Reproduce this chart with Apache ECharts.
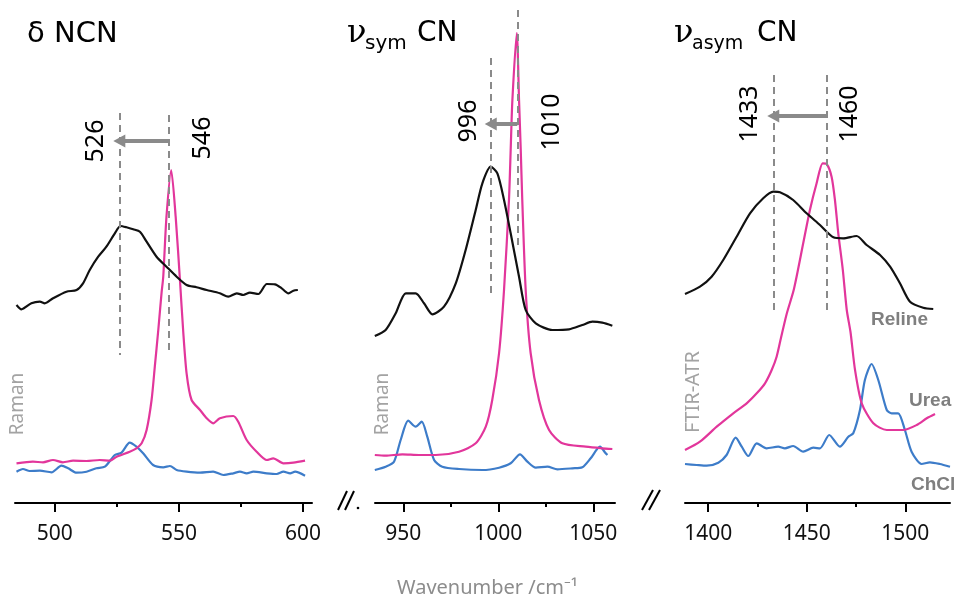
<!DOCTYPE html>
<html><head><meta charset="utf-8">
<script src="https://cdn.jsdelivr.net/npm/echarts@6/dist/echarts.min.js"></script>
<style>html,body{margin:0;padding:0;background:#fff}#c{width:956px;height:599px}</style>
</head><body><div id="c"></div>
<script>
// ---- data (wavenumber, intensity in arbitrary units) ----
const ticksNCN = [500, 550, 600], minorNCN = [525, 575];
const ticksSym = [950, 1000, 1050], minorSym = [975, 1025];
const ticksAsym = [1400, 1450, 1500], minorAsym = [1425, 1475];

const relineNCN = [[484.6,198],[486.6,193.7],[490.6,199.7],[494.0,201.3],[496.0,199.7],[499.3,204.7],[504.7,211.3],[508.8,213],[511.4,219.7],[514.1,233],[517.5,246.3],[520.8,256.3],[524.2,269.7],[526.5,277],[528.9,275.7],[531.6,273.7],[534.3,271.3],[537.0,261.3],[541.0,246.3],[545.0,236.3],[549.1,226.3],[553.1,218],[557.1,215.7],[561.2,213],[566.5,209.7],[569.9,206.3],[573.3,209.7],[575.9,208],[578.6,210.3],[582.0,209],[585.4,219],[588.7,218.7],[591.4,214.7],[594.1,209.7],[596.1,212.3],[597.9,213]];
const ureaNCN = [[484.6,39.7],[491.2,41.3],[495.3,40.7],[499.3,43],[503.3,40.7],[507.4,42.3],[512.8,42],[518.1,43],[522.2,42.3],[524.9,46.3],[530.2,51.3],[532.9,54.7],[535.0,59.7],[537.0,73],[539.0,103],[540.3,136.3],[541.7,173],[543.0,209.7],[543.7,226.3],[545.0,286.3],[546.9,333],[548.7,286.3],[550.5,220],[551.7,173],[553.1,129.7],[555.1,103],[558.5,93],[561.2,84.7],[563.8,79.7],[566.5,84.7],[571.9,87],[573.9,81.3],[577.3,63],[581.3,51.3],[585.4,43],[588.0,44.7],[592.1,39.7],[596.1,40.3],[600.8,42.3]];
const chclNCN = [[484.6,31.3],[487.2,34],[489.9,32],[494.0,32.3],[498.7,30.7],[502.7,37.3],[505.4,34.7],[508.8,30.3],[512.8,31.3],[516.8,34.7],[520.2,36.3],[524.2,48],[526.9,50.3],[530.2,60.3],[532.9,56.3],[535.6,49.7],[539.6,38],[543.7,35.7],[546.4,37],[549.1,33],[553.1,31.3],[558.5,30.3],[563.8,31.3],[567.9,28],[571.9,29.7],[574.6,31.3],[577.3,29.7],[580.0,31.3],[585.4,29.7],[589.4,29],[592.1,31.3],[594.8,29.7],[596.8,31.3],[600.8,27.3]];

const relineSym = [[935,167],[940.7,173],[946.0,189.7],[951.3,209.7],[956.5,209.7],[960.9,199.7],[965.3,188.7],[971.4,196.3],[977.6,219.7],[982.8,253],[988.1,293],[991.6,319.7],[996.0,336.3],[999.5,329.7],[1003.0,303],[1006.5,269.7],[1010.9,226.3],[1014.4,193],[1019.7,179.7],[1028.4,173],[1037.2,173.7],[1044.2,178],[1049.5,181.3],[1054.7,180.3],[1060.0,177.3]];
const ureaSym = [[935,48],[940.7,47.3],[949.5,48.7],[958.3,48],[967.1,48],[979.3,51.3],[988.1,59.7],[993.4,76.3],[996.8,103],[1000.4,150],[1003.0,213],[1005.6,303],[1006.5,353],[1007.4,403],[1009.7,470],[1010.9,403],[1011.8,353],[1012.6,303],[1014.4,213],[1017.0,150],[1021.4,103],[1026.7,73],[1033.7,59.7],[1046.0,56.3],[1054.7,54.7],[1060.0,54]];
const chclSym = [[935,33],[940.7,36.3],[945.1,41.3],[948.6,63],[952.6,82.3],[956.5,76.3],[959.7,81.3],[962.6,66.3],[966.2,43],[970.5,36.3],[979.3,34],[991.6,33],[1000.4,35.3],[1006.5,39.7],[1011.4,48.7],[1015.3,41.3],[1019.7,35.3],[1025.8,36.3],[1031.1,33.7],[1039.0,34.7],[1044.2,35.7],[1048.6,44.7],[1053.5,56.3],[1056.5,49.7],[1057.4,48]];

const relineAsym = [[1388.2,209],[1395.8,216.3],[1401.7,226.3],[1407.6,243],[1414.4,266.3],[1421.2,289.7],[1427.9,304.7],[1433.0,311.3],[1436.4,310.7],[1443.1,303],[1449.9,289.7],[1456.7,278],[1463.5,265.7],[1468.5,264.7],[1475.3,267],[1480.4,258],[1487.2,248],[1492.3,236.3],[1497.3,219.7],[1502.4,201.3],[1509.1,195.3],[1514.2,194]];
const ureaAsym = [[1388.2,53],[1395.8,61.3],[1404.3,76.3],[1412.7,89.7],[1419.5,99.7],[1424.6,109.7],[1428.8,119.7],[1432.2,133],[1434.7,146.3],[1436.9,165],[1439.8,189],[1443.5,214],[1448.2,259.7],[1451.6,293],[1455.0,319.7],[1458.1,339.7],[1460.1,339],[1462.6,326.3],[1464.3,303],[1466.0,269.7],[1468.3,233],[1470.3,193],[1472.2,171],[1474.5,133],[1477.9,99.7],[1483.8,79.7],[1490.6,73],[1499.0,73],[1505.8,78],[1510.9,84.7],[1515.1,89]];
const chclAsym = [[1388.2,39],[1394.1,38],[1399.2,37.3],[1405.1,40.3],[1409.3,48],[1413.9,65.3],[1417.0,56.3],[1420.3,47],[1424.6,59.7],[1429.6,54.7],[1435.5,56.3],[1438.9,54.7],[1443.1,57],[1448.2,51.3],[1453.3,55.3],[1456.7,54.7],[1461.4,68],[1466.8,56.3],[1471.1,66.3],[1473.6,69.7],[1477.0,93],[1479.5,123],[1482.9,139],[1486.3,123],[1490.6,93],[1493.1,89.7],[1496.4,89.7],[1499.8,73],[1503.2,51.3],[1508.3,39],[1512.5,40.7],[1517.6,39],[1522.7,36.3]];

// peak shift markers: [wavenumber, top level, bottom level] and arrow (from -> to at level)
const dashNCN = [[526, 390, 148], [546, 388, 148]];
const dashSym = [[996, 445, 205], [1010, 493, 253]];
const dashAsym = [[1433, 428, 188], [1460, 428, 188]];
const arrowNCN = {from: 546, to: 526, level: 362};
const arrowSym = {from: 1010, to: 996, level: 379};
const arrowAsym = {from: 1460, to: 1433, level: 387};

// ---- layout ----
const panels = [
  {left: 15, width: 297, min: 484, max: 603.6, ticks: ticksNCN, minor: minorNCN, s: [relineNCN, ureaNCN, chclNCN], dash: dashNCN, arrow: arrowNCN},
  {left: 375, width: 240, min: 935.1, max: 1061.4, ticks: ticksSym, minor: minorSym, s: [relineSym, ureaSym, chclSym], dash: dashSym, arrow: arrowSym},
  {left: 685, width: 265, min: 1388.2, max: 1522.7, ticks: ticksAsym, minor: minorAsym, s: [relineAsym, ureaAsym, chclAsym], dash: dashAsym, arrow: arrowAsym}
];
const colors = ['#111111', '#e2369b', '#3d7cc9'];
const numFont = '"Noto Sans","DejaVu Sans",sans-serif';

const grid = [], xAxis = [], yAxis = [], series = [];
panels.forEach((p, i) => {
  grid.push({left: p.left, width: p.width, top: 0, height: 503});
  xAxis.push({gridIndex: i, type: 'value', min: p.min, max: p.max, position: 'bottom',
    axisLine: {lineStyle: {color: '#000', width: 2}},
    axisTick: {customValues: p.ticks, length: 9, lineStyle: {color: '#000', width: 2}},
    axisLabel: {customValues: p.ticks, margin: 21, fontSize: 21, fontFamily: numFont, color: '#111', formatter: v => String(v)},
    splitLine: {show: false}});
  yAxis.push({gridIndex: i, type: 'value', min: 0, max: 503, show: false});
});
panels.forEach((p, i) => {
  xAxis.push({gridIndex: i, type: 'value', min: p.min, max: p.max, position: 'bottom',
    axisLine: {show: false},
    axisTick: {customValues: p.minor, length: 4, lineStyle: {color: '#000', width: 2}},
    axisLabel: {show: false}, splitLine: {show: false}});
});
panels.forEach((p, i) => {
  p.s.forEach((d, k) => {
    const ser = {type: 'line', xAxisIndex: i, yAxisIndex: i, data: d, showSymbol: false, smooth: 0.25,
      lineStyle: {color: colors[k], width: 2.2}, z: 3 - k, animation: false, silent: true};
    if (k === 0) {
      ser.markLine = {silent: true, symbol: 'none', animation: false, label: {show: false},
        lineStyle: {color: '#8a8a8a', width: 2, type: [7, 5]},
        data: p.dash.map(v => [{coord: [v[0], v[1]]}, {coord: [v[0], v[2]]}])};
    }
    if (k === 1) {
      const a = p.arrow;
      ser.markLine = {silent: true, symbol: ['none', 'triangle'], symbolSize: [13, 12], animation: false,
        label: {show: false}, lineStyle: {color: '#8a8a8a', width: 4, type: 'solid'},
        data: [[{coord: [a.from, a.level]}, {coord: [a.to, a.level]}]]};
    }
    series.push(ser);
  });
});

function txt(x, y, text, fs, opts) {
  return Object.assign({type: 'text', x: x, y: y, silent: true,
    style: Object.assign({text: text, fontSize: fs, fontFamily: '"DejaVu Sans",sans-serif', fill: '#000', align: 'left', verticalAlign: 'middle'}, opts && opts.style || {})},
    opts && opts.el || {});
}
const rot = {rotation: Math.PI / 2};
const graphic = [
  txt(27, 34, 'δ NCN', 29),
  txt(347, 34, 'ν', 32, {style: {fontFamily: '"DejaVu Serif",serif'}}),
  txt(365, 44, 'sym', 20),
  txt(417, 34, 'CN', 28),
  txt(674, 34, 'ν', 32, {style: {fontFamily: '"DejaVu Serif",serif'}}),
  txt(692, 44, 'asym', 19),
  txt(757, 34, 'CN', 28),
  // rotated peak labels
  txt(96, 141, '526', 25, {style: {align: 'center', fontFamily: numFont}, el: rot}),
  txt(203, 138, '546', 25, {style: {align: 'center', fontFamily: numFont}, el: rot}),
  txt(469, 121, '996', 25, {style: {align: 'center', fontFamily: numFont}, el: rot}),
  txt(552, 122, '1010', 25, {style: {align: 'center', fontFamily: numFont}, el: rot}),
  txt(750, 114, '1433', 25, {style: {align: 'center', fontFamily: numFont}, el: rot}),
  txt(850, 114, '1460', 25, {style: {align: 'center', fontFamily: numFont}, el: rot}),
  // technique labels
  txt(18, 404, 'Raman', 19, {style: {align: 'center', fontFamily: numFont, fill: '#a3a3a3'}, el: rot}),
  txt(383, 404, 'Raman', 19, {style: {align: 'center', fontFamily: numFont, fill: '#a3a3a3'}, el: rot}),
  txt(693, 392, 'FTIR-ATR', 20, {style: {align: 'center', fontFamily: numFont, fill: '#a3a3a3'}, el: rot}),
  // sample labels
  txt(871, 320, 'Reline', 19, {style: {fontFamily: '"Liberation Sans",Arial,sans-serif', fontWeight: 'bold', fill: '#7f7f7f'}}),
  txt(909, 401, 'Urea', 19, {style: {fontFamily: '"Liberation Sans",Arial,sans-serif', fontWeight: 'bold', fill: '#7f7f7f'}}),
  txt(911, 485, 'ChCl', 19, {style: {fontFamily: '"Liberation Sans",Arial,sans-serif', fontWeight: 'bold', fill: '#7f7f7f'}}),
  // axis title
  txt(397, 588, 'Wavenumber /cm⁻¹', 20, {style: {fontFamily: numFont, fill: '#8c8c8c'}}),
  // axis break marks
  {type: 'line', silent: true, shape: {x1: 338, y1: 510, x2: 347, y2: 491}, style: {stroke: '#000', lineWidth: 2}},
  {type: 'line', silent: true, shape: {x1: 345, y1: 510, x2: 354, y2: 491}, style: {stroke: '#000', lineWidth: 2}},
  {type: 'circle', silent: true, shape: {cx: 358, cy: 508, r: 1.3}, style: {fill: '#000'}},
  {type: 'line', silent: true, shape: {x1: 642, y1: 510, x2: 653, y2: 490}, style: {stroke: '#000', lineWidth: 2}},
  {type: 'line', silent: true, shape: {x1: 649, y1: 510, x2: 660, y2: 490}, style: {stroke: '#000', lineWidth: 2}}
];

const chart = echarts.init(document.getElementById('c'), null, {renderer: 'canvas'});
chart.setOption({animation: false, grid, xAxis, yAxis, series, graphic});
</script></body></html>
